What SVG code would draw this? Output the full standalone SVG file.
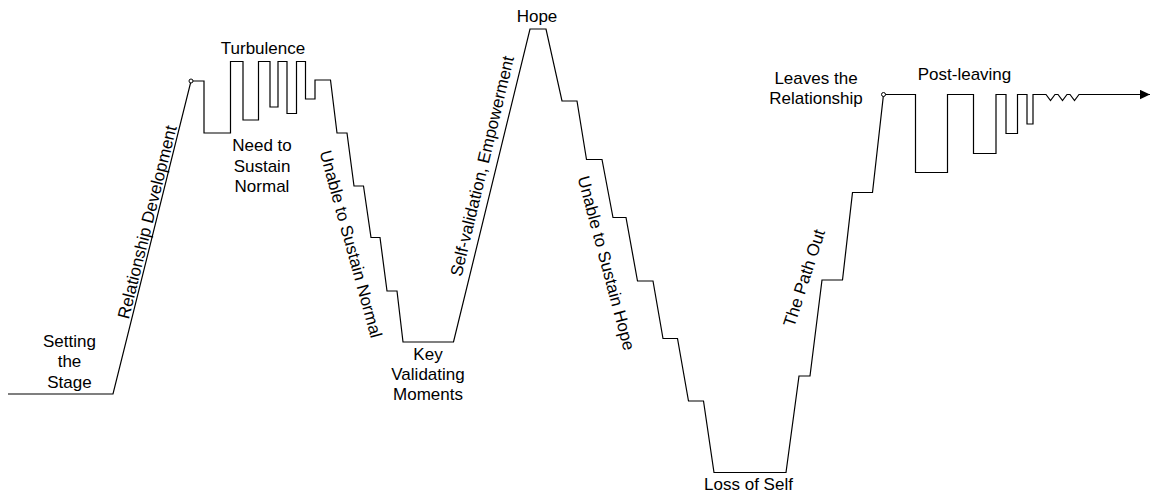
<svg xmlns="http://www.w3.org/2000/svg" width="1151" height="499" viewBox="0 0 1151 499">
<style>
.t{font-family:"Liberation Sans",Arial,sans-serif;font-size:17px;fill:#000}
.c{text-anchor:middle}
.ln{fill:none;stroke:#000;stroke-width:1.2;stroke-linejoin:miter}
.dot{fill:#fff;stroke:#000;stroke-width:1}
</style>
<defs>
<marker id="arr" markerWidth="10" markerHeight="10" refX="10" refY="5" orient="auto" markerUnits="userSpaceOnUse">
<path d="M0,0.3 L10,5 L0,9.7 Z" fill="#000"/>
</marker>
</defs>
<g id="connectors">
<path class="ln" marker-end="url(#arr)" d="M8,394 L113,394 L191,81 L204,81 L204,133 L230.5,133 L230.5,61.5 L243,61.5 L243,120 L258.5,120 L258.5,61.5 L270,61.5 L270,107 L278,107 L278,61.5 L287,61.5 L287,113.5 L296.5,113.5 L296.5,61.5 L305.5,61.5 L305.5,99 L315,99 L315,80 L330.5,80 L337,133 L347,133 L354,186 L363.5,186 L371,237.5 L380,237.5 L387,291 L397,291 L403,342 L453.5,342 L530,29 L546,29 L562,101 L577,101 L586.5,159.5 L602,159.5 L613,217.5 L626,217.5 L637.5,281 L653,281 L663,338.5 L677.5,338.5 L688.5,401 L703.5,401 L714,472.5 L786,472.5 L799,376 L810,376 L822,280 L842.5,280 L852.5,192.5 L872.5,192.5 L883.5,94.5 L915.5,94.5 L915.5,172.5 L947.5,172.5 L947.5,94.5 L973.5,94.5 L973.5,153.5 L996,153.5 L996,94.5 L1006,94.5 L1006,133.5 L1017.5,133.5 L1017.5,94.5 L1027,94.5 L1027,124 L1033,124 L1033,94.5 L1046,94.5 L1050.5,100.5 L1055,94.5 L1058,94.5 L1062.5,100.5 L1067,94.5 L1070,94.5 L1074.5,100.5 L1079,94.5 L1150,94.5"/>
<circle class="dot" cx="191" cy="81" r="2"/>
<circle class="dot" cx="883.5" cy="94.5" r="2"/>
</g>
<g id="setting-the-stage"><text class="t c" x="69.5" y="346.5">Setting</text><text class="t c" x="69.5" y="367">the</text><text class="t c" x="69.5" y="387.5">Stage</text></g>
<g id="relationship-development"><text class="t c" transform="translate(147,222) rotate(-76)" dy="0.35em">Relationship Development</text></g>
<g id="turbulence"><text class="t c" x="263" y="54">Turbulence</text></g>
<g id="need-to-sustain-normal"><text class="t c" x="262" y="150.5">Need to</text><text class="t c" x="262" y="171.5">Sustain</text><text class="t c" x="262" y="192">Normal</text></g>
<g id="unable-to-sustain-normal"><text class="t c" transform="translate(351,244) rotate(74.6)" dy="0.35em">Unable to Sustain Normal</text></g>
<g id="key-validating-moments"><text class="t c" x="428" y="359.5">Key</text><text class="t c" x="428" y="380">Validating</text><text class="t c" x="428" y="400">Moments</text></g>
<g id="self-validation"><text class="t c" transform="translate(482,166) rotate(-76.5)" dy="0.35em">Self-validation, Empowerment</text></g>
<g id="hope"><text class="t c" x="537" y="21.5">Hope</text></g>
<g id="unable-to-sustain-hope"><text class="t c" transform="translate(606.5,263) rotate(75)" dy="0.35em">Unable to Sustain Hope</text></g>
<g id="loss-of-self"><text class="t c" x="748.5" y="490">Loss of Self</text></g>
<g id="the-path-out"><text class="t c" transform="translate(804,278) rotate(-72)" dy="0.35em">The Path Out</text></g>
<g id="leaves-the-relationship"><text class="t c" x="816" y="83.5">Leaves the</text><text class="t c" x="816" y="104">Relationship</text></g>
<g id="post-leaving"><text class="t c" x="964.5" y="80">Post-leaving</text></g>
</svg>
